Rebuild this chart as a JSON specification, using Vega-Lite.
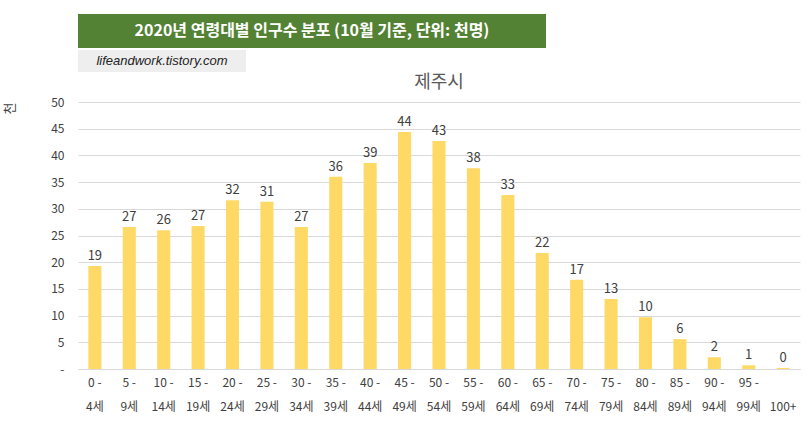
{
  "$schema": "https://vega.github.io/schema/vega-lite/v6.json",
  "background": "white",
  "padding": {"left": 3, "top": 14, "right": 4, "bottom": 4},
  "center": false,
  "spacing": 2,
  "config": {
    "font": "Noto Sans CJK KR"
  },
  "vconcat": [
    {
      "width": 468,
      "height": 34,
      "view": {"fill": "#548235", "stroke": null},
      "data": {"values": [{"t": "2020년 연령대별 인구수 분포 (10월 기준, 단위: 천명)"}]},
      "mark": {"type": "text", "color": "white", "fontSize": 16, "fontWeight": "bold", "font": "Noto Sans CJK KR"},
      "encoding": {"text": {"field": "t", "type": "nominal"}}
    },
    {
      "width": 168,
      "height": 22,
      "view": {"fill": "#eeeeee", "stroke": null},
      "data": {"values": [{"t": "lifeandwork.tistory.com"}]},
      "mark": {"type": "text", "color": "#222222", "fontSize": 13, "fontStyle": "italic", "font": "Liberation Sans"},
      "encoding": {"text": {"field": "t", "type": "nominal"}}
    },
    {
      "width": 722,
      "height": 267,
      "title": {"text": "제주시", "fontSize": 18, "fontWeight": "normal", "color": "#595959", "offset": 4},
      "view": {"stroke": null},
      "data": {"values": [
        {"age": "0 -|4세", "v": 19.3},
        {"age": "5 -|9세", "v": 26.6},
        {"age": "10 -|14세", "v": 26.0},
        {"age": "15 -|19세", "v": 26.8},
        {"age": "20 -|24세", "v": 31.6},
        {"age": "25 -|29세", "v": 31.3},
        {"age": "30 -|34세", "v": 26.6},
        {"age": "35 -|39세", "v": 36.0},
        {"age": "40 -|44세", "v": 38.6},
        {"age": "45 -|49세", "v": 44.4},
        {"age": "50 -|54세", "v": 42.7},
        {"age": "55 -|59세", "v": 37.6},
        {"age": "60 -|64세", "v": 32.6},
        {"age": "65 -|69세", "v": 21.7},
        {"age": "70 -|74세", "v": 16.7},
        {"age": "75 -|79세", "v": 13.1},
        {"age": "80 -|84세", "v": 9.7},
        {"age": "85 -|89세", "v": 5.6},
        {"age": "90 -|94세", "v": 2.2},
        {"age": "95 -|99세", "v": 0.7},
        {"age": " |100+", "v": 0.2}
      ]},
      "encoding": {
        "x": {
          "field": "age", "type": "nominal", "sort": null, "title": null,
          "scale": {"paddingInner": 0.62, "paddingOuter": 0.3},
          "axis": {"labelAngle": 0, "labelExpr": "split(datum.label, '|')", "labelFontSize": 12, "labelColor": "#404040", "domainColor": "#d9d9d9", "ticks": false, "labelPadding": 8, "labelLineHeight": 24}
        },
        "y": {
          "field": "v", "type": "quantitative",
          "scale": {"domain": [0, 50]},
          "title": "천",
          "axis": {"values": [0, 5, 10, 15, 20, 25, 30, 35, 40, 45, 50], "labelExpr": "datum.value == 0 ? '-' : datum.label", "domain": false, "ticks": false, "gridColor": "#d9d9d9", "labelFontSize": 12, "labelColor": "#404040", "titleFontSize": 13, "titleFontWeight": "normal", "titleColor": "#404040", "titlePadding": 34, "titleAnchor": "end", "labelPadding": 14}
        }
      },
      "layer": [
        {"mark": {"type": "bar", "color": "#FFD966"}},
        {
          "mark": {"type": "text", "dy": -10, "fontSize": 13, "color": "#404040"},
          "encoding": {"text": {"field": "v", "type": "quantitative", "format": ".0f"}}
        }
      ]
    }
  ]
}
